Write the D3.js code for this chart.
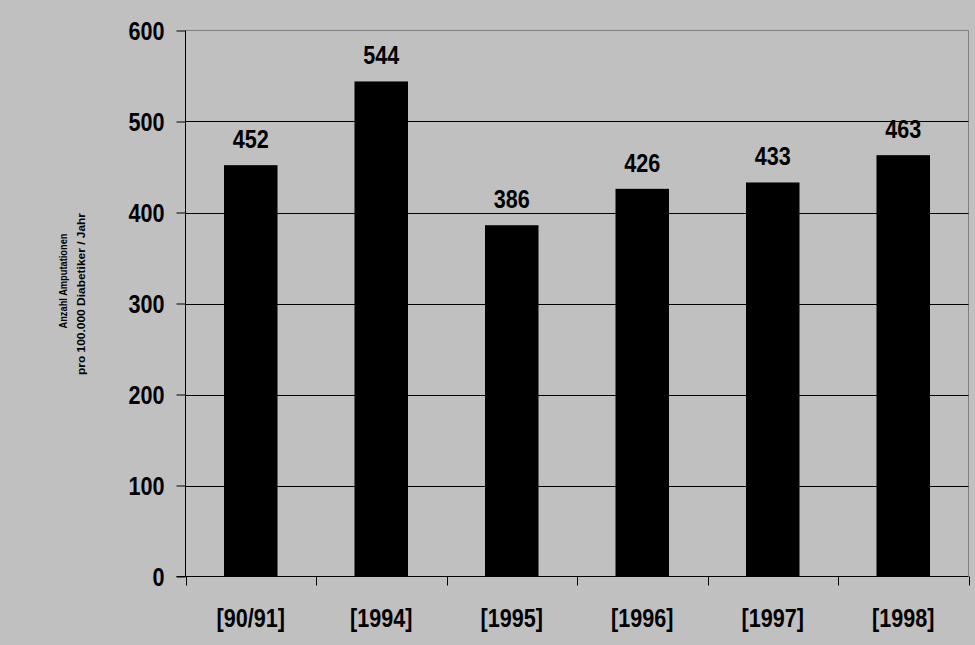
<!DOCTYPE html>
<html><head><meta charset="utf-8">
<script src="https://cdn.jsdelivr.net/npm/d3@7"></script>
<style>
html,body{margin:0;padding:0;background:#c0c0c0;}
svg text{font-family:"Liberation Sans Narrow","Arial Narrow","Liberation Sans",Arial,sans-serif;font-weight:bold;fill:#000;}
</style></head>
<body>
<svg id="c" width="975" height="645"></svg>
<script>
const categories = ["[90/91]","[1994]","[1995]","[1996]","[1997]","[1998]"];
const values = [452, 544, 386, 426, 433, 463];
const yTicks = [0,100,200,300,400,500,600];
const yTitle = ["Anzahl Amputationen","pro 100.000 Diabetiker / Jahr"];

const svg = d3.select("#c");
const L = 185.5, R = 968.5, T = 30.5, B = 576.5;
const SX = 0.83; // horizontal condense factor (narrow font look)

const x = d3.scaleBand().domain(categories).range([L, R]).padding(0);
const y = d3.scaleLinear().domain([0, 600]).range([B, T]);

svg.append("rect").attr("width",975).attr("height",645).attr("fill","#c0c0c0");

// plot border (top/right gray)
svg.append("path")
  .attr("d", `M${L},${T}H${R}V${B}`)
  .attr("fill","none").attr("stroke","#808080").attr("stroke-width",1);

// gridlines
svg.append("g").selectAll("line").data(yTicks.filter(d => d > 0 && d < 600)).join("line")
  .attr("x1", L).attr("x2", R)
  .attr("y1", d => Math.round(y(d)) + 0.5).attr("y2", d => Math.round(y(d)) + 0.5)
  .attr("stroke","#000").attr("stroke-width",1);

// bars
const bw = x.bandwidth() * 0.41;
svg.append("g").selectAll("rect").data(values).join("rect")
  .attr("x", (d,i) => x(categories[i]) + x.bandwidth()/2 - bw/2)
  .attr("width", bw)
  .attr("y", d => y(d))
  .attr("height", d => y(0) - y(d))
  .attr("fill","#000");

// value labels
svg.append("g").selectAll("text").data(values).join("text")
  .attr("transform", (d,i) => `translate(${x(categories[i]) + x.bandwidth()/2},${y(d) - 17}) scale(${SX},1)`)
  .attr("text-anchor","middle")
  .attr("font-size", 26)
  .text(d => d);

// y axis
const yAxis = d3.axisLeft(y).tickValues(yTicks).tickSize(9).tickPadding(12).tickFormat(d3.format("d"));
const gy = svg.append("g").attr("transform", `translate(${L},0)`).call(yAxis);
gy.select(".domain").attr("stroke","#000").attr("d", `M0,${T}V${B}`);
gy.selectAll(".tick line").attr("stroke","#000");
gy.selectAll(".tick text").attr("font-size",26).attr("dy","0.36em")
  .attr("x", -21 / SX).attr("transform", `scale(${SX},1)`)
  .style("font-family",'"Liberation Sans Narrow","Arial Narrow","Liberation Sans",sans-serif').style("font-weight","bold");

// x axis
const xAxis = d3.axisBottom(x).tickSize(0).tickPadding(30);
const gx = svg.append("g").attr("transform", `translate(0,${B})`).call(xAxis);
gx.select(".domain").attr("d", `M${L-9},0H${R}`).attr("stroke","#000");
gx.selectAll(".tick text").attr("font-size",26).attr("dy","0.8em")
  .attr("transform", `scale(${SX},1)`)
  .style("font-family",'"Liberation Sans Narrow","Arial Narrow","Liberation Sans",sans-serif').style("font-weight","bold");
// boundary ticks between bands
const bounds = categories.map(c => x(c)).concat([R]);
gx.append("g").selectAll("line").data(bounds).join("line")
  .attr("x1", d => Math.round(d) + 0.5).attr("x2", d => Math.round(d) + 0.5)
  .attr("y1", 0).attr("y2", 9).attr("stroke","#000");

// y title
const yt = svg.append("g");
yt.append("text").attr("transform","translate(67,281) rotate(-90)")
  .attr("text-anchor","middle").attr("font-size",11.5)
  .attr("textLength",95).attr("lengthAdjust","spacingAndGlyphs").text(yTitle[0]);
yt.append("text").attr("transform","translate(85,294) rotate(-90)")
  .attr("text-anchor","middle").attr("font-size",11.5)
  .attr("textLength",162).attr("lengthAdjust","spacingAndGlyphs").text(yTitle[1]);
</script>
</body></html>
